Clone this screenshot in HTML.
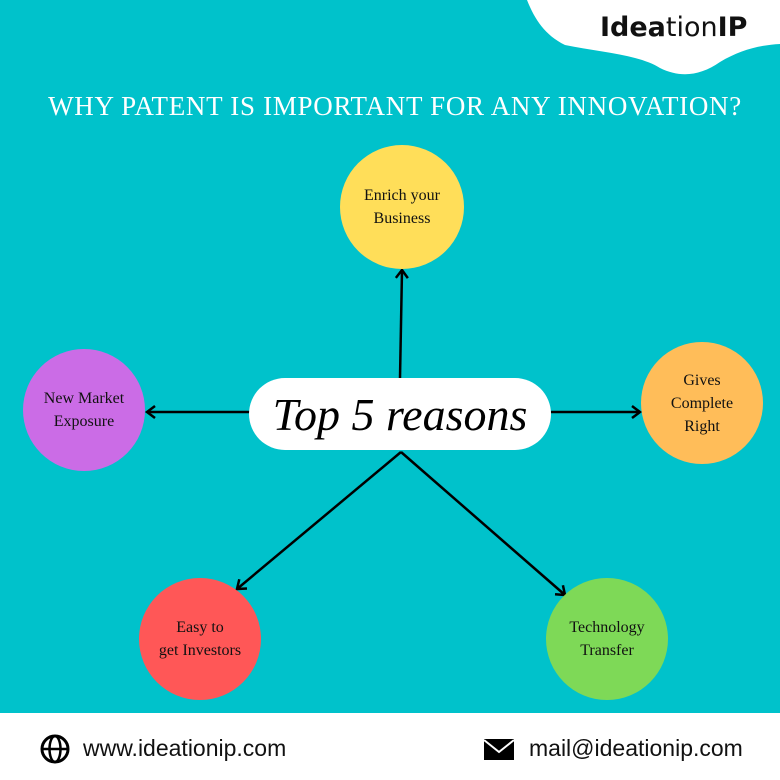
<!DOCTYPE html>
<html><head><style>
body{margin:0;width:780px;height:780px;overflow:hidden;background:#00c2cb;position:relative;font-family:"Liberation Serif",serif}
.c{position:absolute;border-radius:50%;display:flex;align-items:center;justify-content:center;text-align:center;font-size:16px;line-height:23px;color:#111}
.t{position:absolute;left:0;width:790px;top:91px;text-align:center;color:#fff;font-size:27px;letter-spacing:0.7px;white-space:nowrap}
</style></head><body>
<svg width="780" height="780" style="position:absolute;left:0;top:0">
<path d="M527 0 C535 20 545 35 565 45 C600 52 640 55 660 68 C680 78 700 76 720 62 C740 50 760 45 780 44 L780 0 Z" fill="#fff"/>
<rect x="0" y="713" width="780" height="67" fill="#fff"/>
<defs><marker id="a" markerWidth="14" markerHeight="14" refX="10" refY="7" orient="auto" markerUnits="userSpaceOnUse"><path d="M2 1 L10 7 L2 13" fill="none" stroke="#000" stroke-width="2.5"/></marker></defs>
<g stroke="#000" stroke-width="2.5" fill="none" marker-end="url(#a)">
<line x1="400" y1="378" x2="402" y2="270"/>
<line x1="252" y1="412" x2="147" y2="412"/>
<line x1="551" y1="412" x2="640" y2="412"/>
<line x1="401" y1="452" x2="237" y2="589"/>
<line x1="401" y1="452" x2="565" y2="595"/>
</g>
<rect x="249" y="378" width="302" height="72" rx="36" fill="#fff"/>
<circle cx="55" cy="749" r="13" fill="none" stroke="#000" stroke-width="3"/>
<ellipse cx="55" cy="749" rx="5.5" ry="13" fill="none" stroke="#000" stroke-width="2.5"/>
<line x1="42" y1="749" x2="68" y2="749" stroke="#000" stroke-width="2.5"/>
<rect x="484" y="739" width="30" height="21" fill="#000"/>
<path d="M484 740 L499 752 L514 740" fill="none" stroke="#fff" stroke-width="2"/>
</svg>
<div style="position:absolute;left:600px;top:12px;font-family:'DejaVu Sans',sans-serif;font-size:27px;color:#111"><b>Idea</b>tion<b>IP</b></div>
<div class="t">WHY PATENT IS IMPORTANT FOR ANY INNOVATION?</div>
<div style="position:absolute;left:249px;top:378px;width:302px;height:72px;display:flex;align-items:center;justify-content:center;font-family:'Liberation Serif',serif;font-style:italic;font-size:46px;color:#000">Top 5 reasons</div>
<div class="c" style="left:340px;top:145px;width:124px;height:124px;background:#ffde59">Enrich your<br>Business</div>
<div class="c" style="left:23px;top:349px;width:122px;height:122px;background:#cb6ce6">New Market<br>Exposure</div>
<div class="c" style="left:641px;top:342px;width:122px;height:122px;background:#ffbd59">Gives<br>Complete<br>Right</div>
<div class="c" style="left:139px;top:578px;width:122px;height:122px;background:#ff5757">Easy to<br>get Investors</div>
<div class="c" style="left:546px;top:578px;width:122px;height:122px;background:#7ed957">Technology<br>Transfer</div>
<div style="position:absolute;left:83px;top:735px;font-family:'Liberation Sans',sans-serif;font-size:23px;color:#111">www.ideationip.com</div>
<div style="position:absolute;left:529px;top:735px;font-family:'Liberation Sans',sans-serif;font-size:23px;color:#111">mail@ideationip.com</div>
</body></html>
